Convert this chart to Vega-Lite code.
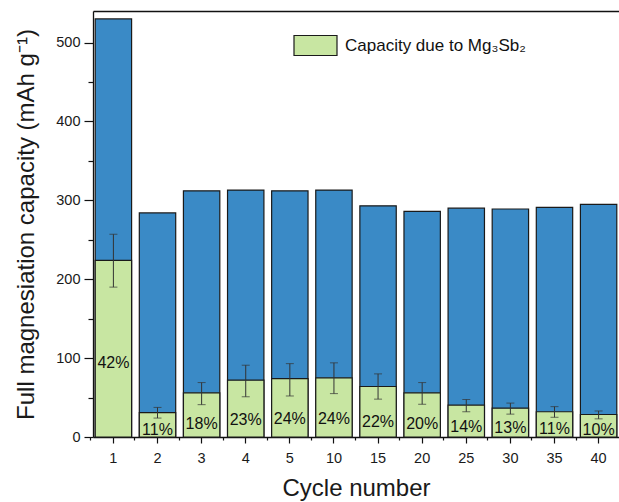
{
  "$schema": "https://vega.github.io/schema/vega-lite/v6.json",
  "autosize": {"type": "none"},
  "width": 526,
  "height": 426,
  "padding": {"left": 93, "top": 11, "right": 0, "bottom": 65},
  "background": "#ffffff",
  "config": {
    "font": "Liberation Sans",
    "view": {"stroke": null},
    "axis": {
      "domainColor": "#111111",
      "domainWidth": 1.3,
      "tickColor": "#111111",
      "tickWidth": 1.2,
      "labelColor": "#1a1a1a",
      "titleColor": "#1a1a1a",
      "labelFont": "Liberation Sans",
      "titleFont": "Liberation Sans",
      "titleFontWeight": "normal",
      "grid": false
    }
  },
  "data": {
    "values": [
      {"cycle": "1", "total": 530, "green": 224, "pct": 42, "lo": 190, "hi": 257},
      {"cycle": "2", "total": 284, "green": 31, "pct": 11, "lo": 24, "hi": 37.5},
      {"cycle": "3", "total": 312, "green": 56, "pct": 18, "lo": 41, "hi": 69},
      {"cycle": "4", "total": 313, "green": 72, "pct": 23, "lo": 51, "hi": 91},
      {"cycle": "5", "total": 312, "green": 74, "pct": 24, "lo": 52, "hi": 93},
      {"cycle": "10", "total": 313, "green": 75, "pct": 24, "lo": 55, "hi": 94},
      {"cycle": "15", "total": 293, "green": 64, "pct": 22, "lo": 48, "hi": 80},
      {"cycle": "20", "total": 286, "green": 56, "pct": 20, "lo": 41.5, "hi": 69},
      {"cycle": "25", "total": 290, "green": 40.5, "pct": 14, "lo": 32, "hi": 47.5},
      {"cycle": "30", "total": 289, "green": 36.5, "pct": 13, "lo": 29, "hi": 43},
      {"cycle": "35", "total": 291, "green": 32, "pct": 11, "lo": 25, "hi": 38.5},
      {"cycle": "40", "total": 295, "green": 28.5, "pct": 10, "lo": 23, "hi": 33}
    ]
  },
  "transform": [
    {"calculate": "datum.pct + '%'", "as": "pct_text"},
    {"calculate": "datum.green > 150 ? datum.green * 0.42 : datum.green * 0.3", "as": "label_y"}
  ],
  "encoding": {
    "x": {
      "field": "cycle",
      "type": "ordinal",
      "sort": null,
      "scale": {"paddingInner": 0.175, "paddingOuter": 0.05}
    }
  },
  "layer": [
    {
      "mark": {"type": "bar", "color": "#3A8AC6", "stroke": "#1a1a1a", "strokeWidth": 1.2},
      "encoding": {
        "x": {
          "field": "cycle",
          "type": "ordinal",
          "sort": null,
          "axis": {
            "orient": "bottom",
            "title": "Cycle number",
            "titleFontSize": 24,
            "titlePadding": 12,
            "labelFontSize": 14.5,
            "labelAngle": 0,
            "labelPadding": 8,
            "tickSize": 6
          }
        },
        "y": {
          "field": "total",
          "type": "quantitative",
          "scale": {"domain": [0, 540], "nice": false},
          "axis": {
            "orient": "left",
            "title": "Full magnesiation capacity (mAh g⁻¹)",
            "titleFontSize": 24,
            "titlePadding": 17,
            "values": [0, 100, 200, 300, 400, 500],
            "labelFontSize": 14.5,
            "labelPadding": 4,
            "tickSize": 9
          }
        }
      }
    },
    {
      "mark": {"type": "bar", "stroke": "#1a1a1a", "strokeWidth": 1.2},
      "encoding": {
        "x": {
          "field": "cycle",
          "type": "ordinal",
          "sort": null,
          "axis": {
            "orient": "bottom",
            "bandPosition": -0.12,
            "tickSize": 3,
            "labels": false,
            "domain": false,
            "title": null
          }
        },
        "y": {
          "field": "green",
          "type": "quantitative",
          "axis": {
            "orient": "left",
            "values": [50, 150, 250, 350, 450],
            "tickSize": 5,
            "labels": false,
            "domain": false,
            "title": null
          }
        },
        "color": {
          "datum": "Capacity due to Mg₃Sb₂",
          "scale": {"range": ["#C8E6A2"]},
          "legend": {
            "orient": "none",
            "legendX": 200,
            "legendY": 12,
            "title": null,
            "padding": 0,
            "symbolType": "M-1,-0.465H1V0.465H-1Z",
            "symbolSize": 1849,
            "symbolStrokeColor": "#1a1a1a",
            "symbolStrokeWidth": 1.2,
            "symbolOpacity": 1,
            "labelFont": "Liberation Sans",
            "labelFontSize": 17,
            "labelColor": "#111111",
            "labelOffset": 7,
            "labelLimit": 0
          }
        }
      }
    },
    {
      "mark": {"type": "rule", "color": "#333333", "strokeWidth": 1},
      "encoding": {
        "x": {
          "field": "cycle",
          "type": "ordinal",
          "sort": null,
          "axis": {
            "orient": "top",
            "ticks": false,
            "labels": false,
            "title": null,
            "domain": true
          }
        },
        "y": {"field": "lo", "type": "quantitative", "axis": null},
        "y2": {"field": "hi"}
      }
    },
    {
      "mark": {"type": "tick", "color": "#333333", "size": 8, "thickness": 1, "orient": "horizontal"},
      "encoding": {
        "x": {"field": "cycle", "type": "ordinal", "sort": null, "axis": null},
        "y": {"field": "lo", "type": "quantitative", "axis": null}
      }
    },
    {
      "mark": {"type": "tick", "color": "#333333", "size": 8, "thickness": 1, "orient": "horizontal"},
      "encoding": {
        "x": {"field": "cycle", "type": "ordinal", "sort": null, "axis": null},
        "y": {"field": "hi", "type": "quantitative", "axis": null}
      }
    },
    {
      "mark": {"type": "text", "fontSize": 16, "color": "#111111", "baseline": "middle", "font": "Liberation Sans"},
      "encoding": {
        "x": {"field": "cycle", "type": "ordinal", "sort": null, "axis": null},
        "y": {"field": "label_y", "type": "quantitative", "axis": null},
        "text": {"field": "pct_text"}
      }
    }
  ],
  "resolve": {"axis": {"x": "independent", "y": "independent"}}
}
